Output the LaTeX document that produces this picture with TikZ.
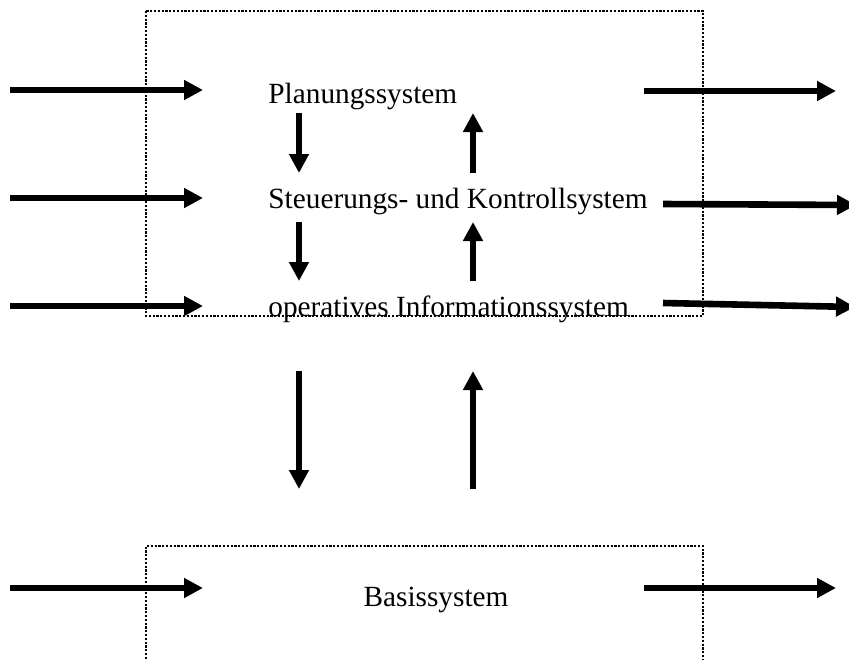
\documentclass[tikz,border=0pt]{standalone}
\usepackage{fontspec}
\setmainfont{Liberation Serif}
\usetikzlibrary{arrows.meta,calc,positioning}

\begin{document}
\begin{tikzpicture}[x=0.5pt, y=-0.5pt,
  flow/.style={line width=3.3pt, -{Triangle[length=9.5pt,width=9.5pt]}},
  frame/.style={line width=1.3pt, dash pattern=on 1.1pt off 0.8pt},
  every node/.style={inner sep=0pt, font=\fontsize{14.65pt}{17pt}\selectfont}]
  \clip (0,0) rectangle (849,659);

  \node [anchor=base west] (plan) at (268,103) {Planungssystem};
  \node [anchor=base west] (steu) at (268,208) {Steuerungs- und Kontrollsystem};
  \node [anchor=base west] (oper) at (268,316) {operatives Informationssystem};
  \node [anchor=base] (basis) at (436,606) {Basissystem};

  % frames
  \draw [frame] (146,11) rectangle (703,316);
  \draw [frame] (146,659) |- (703,546) -- (703,659);

  % inputs from the left
  \foreach \y/\n in {90/plan,198/steu,306/oper,588/basis} {
    \coordinate (in-\n) at (10,\y);
    \coordinate (at-\n) at (203,\y);
    \draw [flow] (in-\n) -- (at-\n);
  }

  % outputs to the right
  \coordinate (out-plan) at (644,91);
  \coordinate (out-basis) at (644,588);
  \draw [flow] (out-plan) -- ++(192,0);
  \draw [flow] (out-basis) -- ++(192,0);
  \coordinate (out-steu) at (663,204);
  \coordinate (out-oper) at (663,303);
  \draw [flow] (out-steu) -- ++(193,1);
  \draw [flow] (out-oper) -- ++(192,4);

  % between the levels
  \foreach \a/\b in {113/173,222/281,371/489} {
    \draw [flow] (299,\a) -- (299,\b);
    \draw [flow] (473,\b) -- (473,\a);
  }
\end{tikzpicture}
\end{document}
